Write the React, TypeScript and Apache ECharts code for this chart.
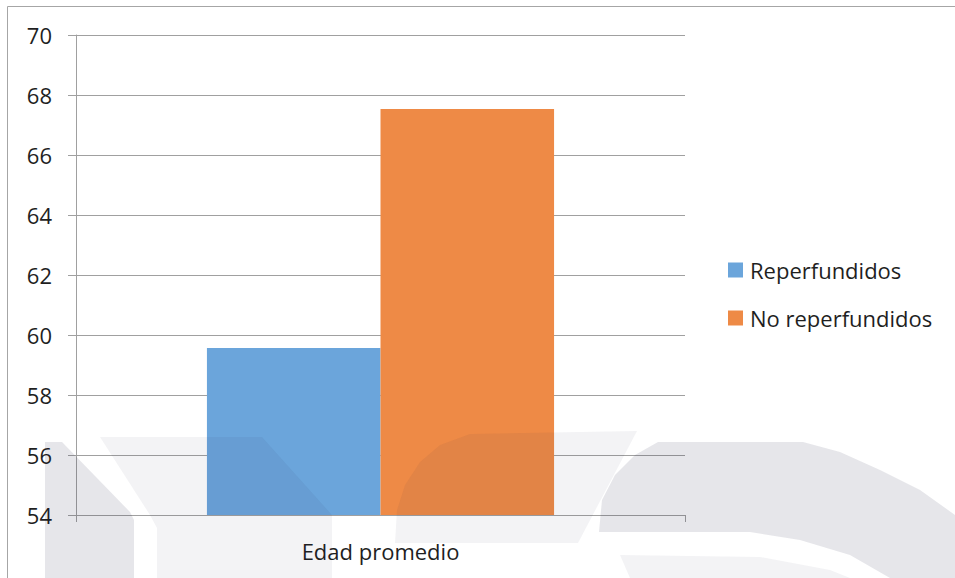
import React, { useEffect, useRef } from "react";
import * as echarts from "echarts";

const categories = ["Edad promedio"];
const seriesNames = ["Reperfundidos", "No reperfundidos"];
const reperfundidos = [59.57];
const noReperfundidos = [67.53];
const yMin = 54;
const yMax = 70;
const yStep = 2;

const FONT = "'Open Sans', 'Liberation Sans', sans-serif";
const DARK = "rgba(30,30,66,0.11)";
const LIGHT = "rgba(30,30,75,0.055)";

export default function App() {
  const ref = useRef<HTMLDivElement>(null);
  useEffect(() => {
    if (!ref.current) return;
    const chart = echarts.init(ref.current, undefined, { renderer: "svg" });
    const wm = (points: number[][], fill: string) => ({
      type: "polygon",
      z: 100,
      silent: true,
      shape: { points },
      style: { fill },
    });
    chart.setOption({
      animation: false,
      backgroundColor: "#ffffff",
      textStyle: { fontFamily: FONT },
      grid: { left: 76, top: 35, right: 270, bottom: 63, containLabel: false },
      legend: {
        orient: "vertical",
        left: 728,
        top: 259,
        padding: 0,
        itemWidth: 15,
        itemHeight: 15,
        itemGap: 26,
        icon: "rect",
        data: seriesNames,
        textStyle: { fontSize: 22, lineHeight: 22, color: "#1f1f1f", fontFamily: FONT, padding: [0, 0, 0, 2] },
      },
      xAxis: {
        type: "category",
        data: categories,
        axisLine: { lineStyle: { color: "#a0a0a0", width: 1 } },
        axisTick: { show: true, length: 7, lineStyle: { color: "#a0a0a0" } },
        axisLabel: { fontSize: 22, color: "#1f1f1f", margin: 25, fontFamily: FONT },
      },
      yAxis: {
        type: "value",
        min: yMin,
        max: yMax,
        interval: yStep,
        axisLine: { show: true, lineStyle: { color: "#a0a0a0", width: 1 } },
        axisTick: { show: true, length: 8, inside: false, lineStyle: { color: "#a0a0a0" } },
        axisLabel: { fontSize: 22, color: "#1f1f1f", margin: 24, fontFamily: FONT },
        splitLine: { show: true, lineStyle: { color: "#a0a0a0", width: 1 } },
      },
      series: [
        {
          name: seriesNames[0],
          type: "bar",
          data: reperfundidos,
          itemStyle: { color: "#6BA5DB" },
          barGap: "0%",
          barCategoryGap: "43%",
        },
        {
          name: seriesNames[1],
          type: "bar",
          data: noReperfundidos,
          itemStyle: { color: "#EE8A46" },
          barGap: "0%",
          barCategoryGap: "43%",
        },
      ],
      graphic: [
        {
          type: "rect",
          z: 101,
          silent: true,
          shape: { x: 7.5, y: 6.5, width: 1200, height: 800 },
          style: { fill: "none", stroke: "#a6a6a6", lineWidth: 1 },
        },
        wm([[45, 442], [62, 442], [130, 512], [134, 520], [134, 578], [45, 578]], DARK),
        wm([[100, 437], [262, 437], [332, 515], [332, 578], [157, 578], [157, 528], [150, 515]], LIGHT),
        wm([[470, 434], [637, 431], [578, 543], [395, 543], [397, 510], [405, 485], [420, 462], [440, 445]], LIGHT),
        wm(
          [
            [658, 442], [803, 442], [840, 452], [880, 470], [920, 490], [955, 515], [955, 578], [890, 578],
            [850, 555], [800, 540], [750, 532], [599, 532], [602, 500], [615, 475], [635, 455],
          ],
          DARK
        ),
        wm([[620, 555], [760, 557], [830, 570], [850, 578], [630, 578]], LIGHT),
      ],
    });
    return () => chart.dispose();
  }, []);
  return (
    <div
      ref={ref}
      style={{ position: "fixed", left: 0, top: 0, width: 955, height: 578, background: "#fff" }}
    />
  );
}
